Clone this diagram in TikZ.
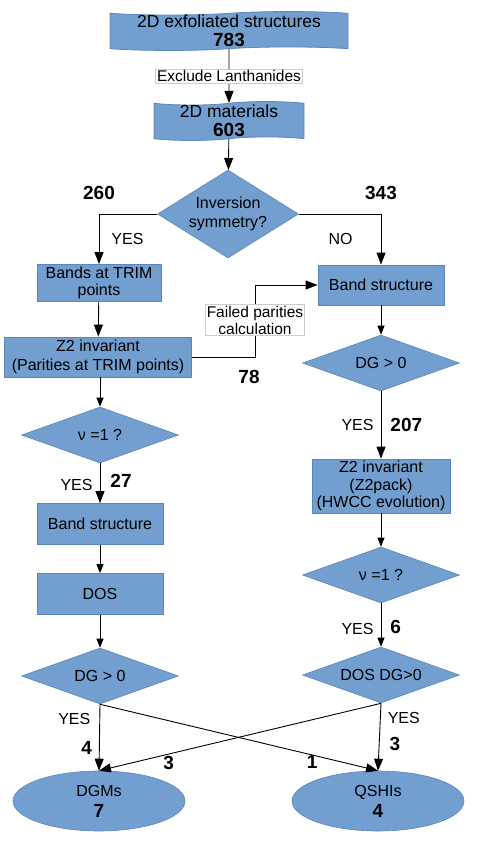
\documentclass[tikz,border=0pt]{standalone}
\usepackage{fontspec}
\setmainfont{Liberation Sans}
\usetikzlibrary{arrows.meta,shapes.geometric,shapes.symbols}
\definecolor{boxblue}{HTML}{729FCF}
\definecolor{boxline}{HTML}{5A86BA}
\begin{document}
\begin{tikzpicture}[x=1pt,y=-1pt,
        every node/.style={font=\fontsize{16}{18}\selectfont},
        flowbox/.style={rectangle, fill=boxblue, draw=boxline, line width=0.8pt, align=center, inner sep=0pt},
        tapebox/.style={tape, fill=boxblue, draw=boxline, line width=0.8pt, align=center, inner sep=0pt, tape bend height=3.5pt},
        decision/.style={diamond, fill=boxblue, draw=boxline, line width=0.6pt, align=center, inner sep=0pt},
        flatdecision/.style={decision, shape aspect=2.8, minimum width=157pt, minimum height=56pt},
        result/.style={ellipse, fill=boxblue, draw=boxline, line width=0.6pt, align=center, inner sep=0pt, minimum width=172pt, minimum height=60pt, font=\fontsize{16}{21}\selectfont},
        lbl/.style={fill=white, draw=black!20, line width=0.5pt, inner sep=1.5pt, align=center, font=\fontsize{15.5}{17}\selectfont},
        num/.style={font=\fontsize{19}{21}\selectfont\bfseries, inner sep=0pt},
        cond/.style={inner sep=0pt},
        arr/.style={-{Triangle[length=12pt,width=9pt]}, line width=0.9pt},
        arrsmall/.style={-{Triangle[length=9pt,width=7pt]}, line width=0.9pt}]
    \useasboundingbox (0,0) rectangle (479,848);
    \node[tapebox, minimum width=238pt, minimum height=38pt, font=\fontsize{17.5}{20}\selectfont] (exfol) at (229,31) {2D exfoliated structures\\[-1pt]{\fontsize{19}{20}\selectfont\bfseries 783}};
    \node[tapebox, minimum width=150pt, minimum height=38pt, font=\fontsize{17.5}{20}\selectfont] (mater) at (229,121) {2D materials\\[-1pt]{\fontsize{19}{20}\selectfont\bfseries 603}};
    \node[decision, minimum width=141pt, minimum height=88pt, shape aspect=1.6, font=\fontsize{16}{19}\selectfont] (inv) at (228,214) {Inversion\\symmetry?};
    \node[flowbox, minimum width=124pt, minimum height=37pt, font=\fontsize{16}{17}\selectfont] (trim) at (99,283) {Bands at TRIM\\points};
    \node[flowbox, minimum width=187pt, minimum height=40pt, font=\fontsize{16}{19}\selectfont] (zleft) at (98,357) {Z2 invariant\\(Parities at TRIM points)};
    \node[flowbox, minimum width=126pt, minimum height=40pt] (bsright) at (381,285) {Band structure};
    \node[flatdecision] (dgright) at (381,363) {DG > 0};
    \node[flowbox, minimum width=138pt, minimum height=54pt, font=\fontsize{16}{17.5}\selectfont] (zright) at (381,486) {Z2 invariant\\(Z2pack)\\(HWCC evolution)};
    \node[flatdecision] (nuright) at (381,575) {ν =1 ?};
    \node[flatdecision] (dosdg) at (381,675) {DOS DG>0};
    \node[flatdecision] (nuleft) at (100,435) {ν =1 ?};
    \node[flowbox, minimum width=126pt, minimum height=41pt] (bsleft) at (100,524) {Band structure};
    \node[flowbox, minimum width=126pt, minimum height=41pt] (dos) at (100,594) {DOS};
    \node[flatdecision] (dgleft) at (100,676) {DG > 0};
    \node[result] (dgm) at (99,801) {DGMs\\{\fontsize{19}{21}\selectfont\bfseries 7}};
    \node[result] (qshi) at (378,801) {QSHIs\\{\fontsize{19}{21}\selectfont\bfseries 4}};
    \node[lbl] (fail) at (255,320) {Failed parities\\calculation};
    \node[num] (n78) at (249,377) {78};

    \draw[arr] (exfol.south -| mater) -- node[lbl] {Exclude Lanthanides} (mater);
    \draw[arr] (mater) -- (inv);
    \draw[arr] (inv.west) -| node[num, pos=0.5, above=14pt] {260} node[cond, pos=0.75, right=12pt] {YES} (trim);
    \draw[arr] (inv.east) -| node[num, pos=0.5, above=14pt] {343} node[cond, pos=0.75, left=28pt] {NO} (bsright);
    \draw[arr] (trim) -- (zleft);
    \draw[line width=0.9pt] (zleft.east) -| (fail.south);
    \draw[arr] (fail.north) |- (bsright.west);
    \draw[arrsmall] (bsright) -- (dgright);
    \draw[arr] (dgright) -- node[cond, left=7pt] {YES} node[num, right=9pt] {207} (zright);
    \draw[arrsmall] (zright) -- (nuright);
    \draw[arrsmall] (nuright) -- node[cond, pos=0.6, left=7pt] {YES} node[num, pos=0.55, right=9pt] {6} (dosdg);
    \draw[arrsmall] (zleft.south -| nuleft) -- (nuleft);
    \draw[arr] (nuleft) -- node[cond, pos=0.55, left=7pt] {YES} node[num, pos=0.45, right=10pt] {27} (bsleft);
    \draw[arrsmall] (bsleft) -- (dos);
    \draw[arrsmall] (dos) -- (dgleft);
    \draw[arr] (dgleft.south) -- node[cond, pos=0.22, left=9pt] {YES} node[num, pos=0.65, left=7pt] {4} (dgm.north);
    \draw[arr] (dgleft.south) -- node[num, pos=0.87, left=24pt] {1} (qshi.north);
    \draw[arr] (dosdg.south) -- node[num, pos=0.88, right=30pt] {3} (dgm.north);
    \draw[arr] (dosdg.south) -- node[cond, pos=0.22, right=7pt] {YES} node[num, pos=0.61, right=10pt] {3} (qshi.north);
\end{tikzpicture}
\end{document}
